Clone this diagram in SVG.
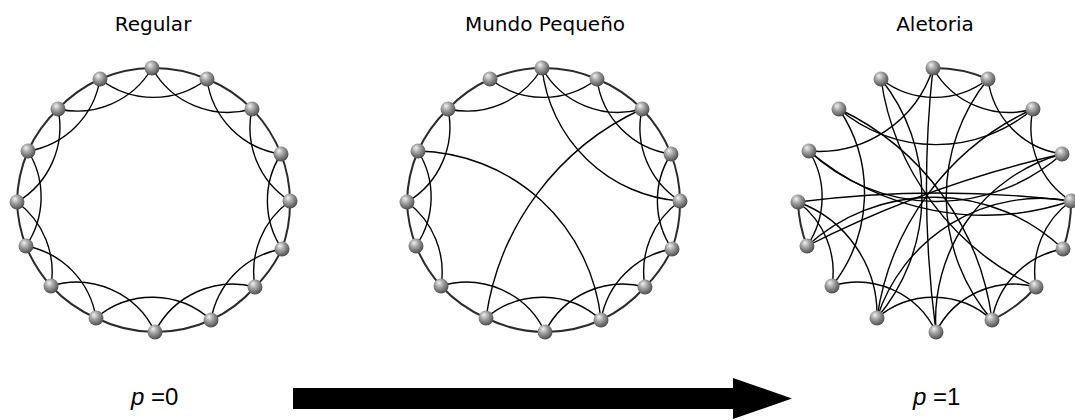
<svg xmlns="http://www.w3.org/2000/svg" width="1075" height="420" viewBox="0 0 1075 420">
<defs>
<radialGradient id="ball" cx="0.42" cy="0.38" r="0.62" fx="0.36" fy="0.28">
<stop offset="0" stop-color="#f2f2f2"/>
<stop offset="0.45" stop-color="#a2a2a2"/>
<stop offset="0.85" stop-color="#666"/>
<stop offset="1" stop-color="#4d4d4d"/>
</radialGradient>
</defs>
<style>
.ring{fill:none;stroke:#2b2b2b;stroke-width:2}
.edge{fill:none;stroke:#000;stroke-width:1.4}
.node{fill:url(#ball)}
.title{font-family:"DejaVu Sans",sans-serif;font-size:20px;fill:#000;text-anchor:middle}
.lab{font-family:"Liberation Sans",Arial,sans-serif;font-size:24px;fill:#000}
</style>
<rect width="1075" height="420" fill="#fff"/>

<text class="title" x="153" y="31">Regular</text>
<text class="title" x="545" y="31">Mundo Pequeño</text>
<text class="title" x="935" y="31">Aletoria</text>

<!-- Regular -->
<g id="regular">
<g id="regular-connectors">
<path class="ring" d="M152 68 A135 135 0 0 1 207 79 A135 135 0 0 1 252 109 A135 135 0 0 1 281 154 A135 135 0 0 1 290 201 A135 135 0 0 1 282 249 A135 135 0 0 1 255 287 A135 135 0 0 1 211 320 A135 135 0 0 1 155 332 A135 135 0 0 1 96 318 A135 135 0 0 1 51 286 A135 135 0 0 1 26 246 A135 135 0 0 1 17 202 A135 135 0 0 1 28 151 A135 135 0 0 1 58 109 A135 135 0 0 1 100 79 A135 135 0 0 1 152 68"/>
<path class="edge" d="M152 68 A87 87 0 0 0 252 109"/>
<path class="edge" d="M207 79 A87 87 0 0 0 281 154"/>
<path class="edge" d="M252 109 A87 87 0 0 0 290 201"/>
<path class="edge" d="M281 154 A87 87 0 0 0 282 249"/>
<path class="edge" d="M290 201 A87 87 0 0 0 255 287"/>
<path class="edge" d="M282 249 A87 87 0 0 0 211 320"/>
<path class="edge" d="M255 287 A87 87 0 0 0 155 332"/>
<path class="edge" d="M211 320 A87 87 0 0 0 96 318"/>
<path class="edge" d="M155 332 A87 87 0 0 0 51 286"/>
<path class="edge" d="M96 318 A87 87 0 0 0 26 246"/>
<path class="edge" d="M51 286 A87 87 0 0 0 17 202"/>
<path class="edge" d="M26 246 A87 87 0 0 0 28 151"/>
<path class="edge" d="M17 202 A87 87 0 0 0 58 109"/>
<path class="edge" d="M28 151 A87 87 0 0 0 100 79"/>
<path class="edge" d="M58 109 A87 87 0 0 0 152 68"/>
<path class="edge" d="M100 79 A87 87 0 0 0 207 79"/>
</g>
<g id="reg-n0"><circle class="node" cx="152" cy="68" r="7.5"/></g>
<g id="reg-n1"><circle class="node" cx="207" cy="79" r="7.5"/></g>
<g id="reg-n2"><circle class="node" cx="252" cy="109" r="7.5"/></g>
<g id="reg-n3"><circle class="node" cx="281" cy="154" r="7.5"/></g>
<g id="reg-n4"><circle class="node" cx="290" cy="201" r="7.5"/></g>
<g id="reg-n5"><circle class="node" cx="282" cy="249" r="7.5"/></g>
<g id="reg-n6"><circle class="node" cx="255" cy="287" r="7.5"/></g>
<g id="reg-n7"><circle class="node" cx="211" cy="320" r="7.5"/></g>
<g id="reg-n8"><circle class="node" cx="155" cy="332" r="7.5"/></g>
<g id="reg-n9"><circle class="node" cx="96" cy="318" r="7.5"/></g>
<g id="reg-n10"><circle class="node" cx="51" cy="286" r="7.5"/></g>
<g id="reg-n11"><circle class="node" cx="26" cy="246" r="7.5"/></g>
<g id="reg-n12"><circle class="node" cx="17" cy="202" r="7.5"/></g>
<g id="reg-n13"><circle class="node" cx="28" cy="151" r="7.5"/></g>
<g id="reg-n14"><circle class="node" cx="58" cy="109" r="7.5"/></g>
<g id="reg-n15"><circle class="node" cx="100" cy="79" r="7.5"/></g>
</g>

<!-- Small world -->
<g id="smallworld" transform="translate(390 0)">
<g id="smallworld-connectors">
<path class="ring" d="M152 68 A135 135 0 0 1 207 79 A135 135 0 0 1 252 109 A135 135 0 0 1 281 154 A135 135 0 0 1 290 201 A135 135 0 0 1 282 249 A135 135 0 0 1 255 287 A135 135 0 0 1 211 320 A135 135 0 0 1 155 332 A135 135 0 0 1 96 318 A135 135 0 0 1 51 286 A135 135 0 0 1 26 246 A135 135 0 0 1 17 202 A135 135 0 0 1 28 151 A135 135 0 0 1 58 109 A135 135 0 0 1 100 79 A135 135 0 0 1 152 68"/>
<path class="edge" d="M152 68 A87 87 0 0 0 252 109"/>
<path class="edge" d="M207 79 A87 87 0 0 0 281 154"/>
<path class="edge" d="M252 109 A87 87 0 0 0 290 201"/>
<path class="edge" d="M281 154 A87 87 0 0 0 282 249"/>
<path class="edge" d="M290 201 A87 87 0 0 0 255 287"/>
<path class="edge" d="M282 249 A87 87 0 0 0 211 320"/>
<path class="edge" d="M255 287 A87 87 0 0 0 155 332"/>
<path class="edge" d="M211 320 A87 87 0 0 0 96 318"/>
<path class="edge" d="M155 332 A87 87 0 0 0 51 286"/>
<path class="edge" d="M51 286 A87 87 0 0 0 17 202"/>
<path class="edge" d="M26 246 A87 87 0 0 0 28 151"/>
<path class="edge" d="M17 202 A87 87 0 0 0 58 109"/>
<path class="edge" d="M58 109 A87 87 0 0 0 152 68"/>
<path class="edge" d="M100 79 A87 87 0 0 0 207 79"/>
<path class="edge" d="M152 68 A150 150 0 0 0 290 201"/>
<path class="edge" d="M252 109 A272 272 0 0 0 96 318"/>
<path class="edge" d="M211 320 A188 188 0 0 0 28 151"/>
</g>
<g id="sw-n0"><circle class="node" cx="152" cy="68" r="7.5"/></g>
<g id="sw-n1"><circle class="node" cx="207" cy="79" r="7.5"/></g>
<g id="sw-n2"><circle class="node" cx="252" cy="109" r="7.5"/></g>
<g id="sw-n3"><circle class="node" cx="281" cy="154" r="7.5"/></g>
<g id="sw-n4"><circle class="node" cx="290" cy="201" r="7.5"/></g>
<g id="sw-n5"><circle class="node" cx="282" cy="249" r="7.5"/></g>
<g id="sw-n6"><circle class="node" cx="255" cy="287" r="7.5"/></g>
<g id="sw-n7"><circle class="node" cx="211" cy="320" r="7.5"/></g>
<g id="sw-n8"><circle class="node" cx="155" cy="332" r="7.5"/></g>
<g id="sw-n9"><circle class="node" cx="96" cy="318" r="7.5"/></g>
<g id="sw-n10"><circle class="node" cx="51" cy="286" r="7.5"/></g>
<g id="sw-n11"><circle class="node" cx="26" cy="246" r="7.5"/></g>
<g id="sw-n12"><circle class="node" cx="17" cy="202" r="7.5"/></g>
<g id="sw-n13"><circle class="node" cx="28" cy="151" r="7.5"/></g>
<g id="sw-n14"><circle class="node" cx="58" cy="109" r="7.5"/></g>
<g id="sw-n15"><circle class="node" cx="100" cy="79" r="7.5"/></g>
</g>

<!-- Random -->
<g id="random" transform="translate(781 0)">
<g id="random-connectors">
<path class="ring" d="M152 68 A135 135 0 0 1 207 79"/>
<path class="ring" d="M26 246 A135 135 0 0 1 17 202"/>
<path class="ring" d="M290 201 A135 135 0 0 1 282 249"/>
<path class="ring" d="M255 287 A135 135 0 0 1 211 320"/>
<path class="edge" d="M152 68 A87 87 0 0 0 252 109"/>
<path class="edge" d="M100 79 A87 87 0 0 0 207 79"/>
<path class="edge" d="M207 79 A87 87 0 0 0 281 154"/>
<path class="edge" d="M252 109 A87 87 0 0 0 290 201"/>
<path class="edge" d="M290 201 A87 87 0 0 0 255 287"/>
<path class="edge" d="M282 249 A87 87 0 0 0 211 320"/>
<path class="edge" d="M255 287 A87 87 0 0 0 155 332"/>
<path class="edge" d="M211 320 A87 87 0 0 0 96 318"/>
<path class="edge" d="M155 332 A87 87 0 0 0 51 286"/>
<path class="edge" d="M51 286 A87 87 0 0 0 17 202"/>
<path class="edge" d="M26 246 A87 87 0 0 0 28 151"/>
<path class="edge" d="M28 151 A120 120 0 0 0 152 68"/>
<path class="edge" d="M96 318 A120 120 0 0 0 17 202"/>
<path class="edge" d="M58 109 A150 150 0 0 0 252 109"/>
<path class="edge" d="M51 286 A150 150 0 0 0 58 109"/>
<path class="edge" d="M281 154 A172 172 0 0 0 155 332"/>
<path class="edge" d="M290 201 A172 172 0 0 0 96 318"/>
<path class="edge" d="M207 79 A188 188 0 0 0 211 320"/>
<path class="edge" d="M28 151 A188 188 0 0 0 281 154"/>
<path class="edge" d="M96 318 A188 188 0 0 0 100 79"/>
<path class="edge" d="M282 249 A188 188 0 0 0 26 246"/>
<path class="edge" d="M28 151 A272 272 0 0 0 290 201"/>
<path class="edge" d="M100 79 A272 272 0 0 0 255 287"/>
<path class="edge" d="M211 320 A272 272 0 0 0 58 109"/>
<path class="edge" d="M252 109 A272 272 0 0 0 96 318"/>
<path class="edge" d="M152 68 A1100 1100 0 0 0 155 332"/>
<path class="edge" d="M281 154 A1100 1100 0 0 0 26 246"/>
<path class="edge" d="M290 201 A1100 1100 0 0 0 17 202"/>
</g>
<g id="rnd-n0"><circle class="node" cx="152" cy="68" r="7.5"/></g>
<g id="rnd-n1"><circle class="node" cx="207" cy="79" r="7.5"/></g>
<g id="rnd-n2"><circle class="node" cx="252" cy="109" r="7.5"/></g>
<g id="rnd-n3"><circle class="node" cx="281" cy="154" r="7.5"/></g>
<g id="rnd-n4"><circle class="node" cx="290" cy="201" r="7.5"/></g>
<g id="rnd-n5"><circle class="node" cx="282" cy="249" r="7.5"/></g>
<g id="rnd-n6"><circle class="node" cx="255" cy="287" r="7.5"/></g>
<g id="rnd-n7"><circle class="node" cx="211" cy="320" r="7.5"/></g>
<g id="rnd-n8"><circle class="node" cx="155" cy="332" r="7.5"/></g>
<g id="rnd-n9"><circle class="node" cx="96" cy="318" r="7.5"/></g>
<g id="rnd-n10"><circle class="node" cx="51" cy="286" r="7.5"/></g>
<g id="rnd-n11"><circle class="node" cx="26" cy="246" r="7.5"/></g>
<g id="rnd-n12"><circle class="node" cx="17" cy="202" r="7.5"/></g>
<g id="rnd-n13"><circle class="node" cx="28" cy="151" r="7.5"/></g>
<g id="rnd-n14"><circle class="node" cx="58" cy="109" r="7.5"/></g>
<g id="rnd-n15"><circle class="node" cx="100" cy="79" r="7.5"/></g>
</g>

<g id="arrow"><polygon points="293,388 733,388 733,378 792,398.5 733,419 733,409 293,409" fill="#000"/></g>
<text class="lab" x="131" y="405"><tspan font-style="italic">p</tspan> =0</text>
<text class="lab" x="913" y="405"><tspan font-style="italic">p</tspan> =1</text>
</svg>
